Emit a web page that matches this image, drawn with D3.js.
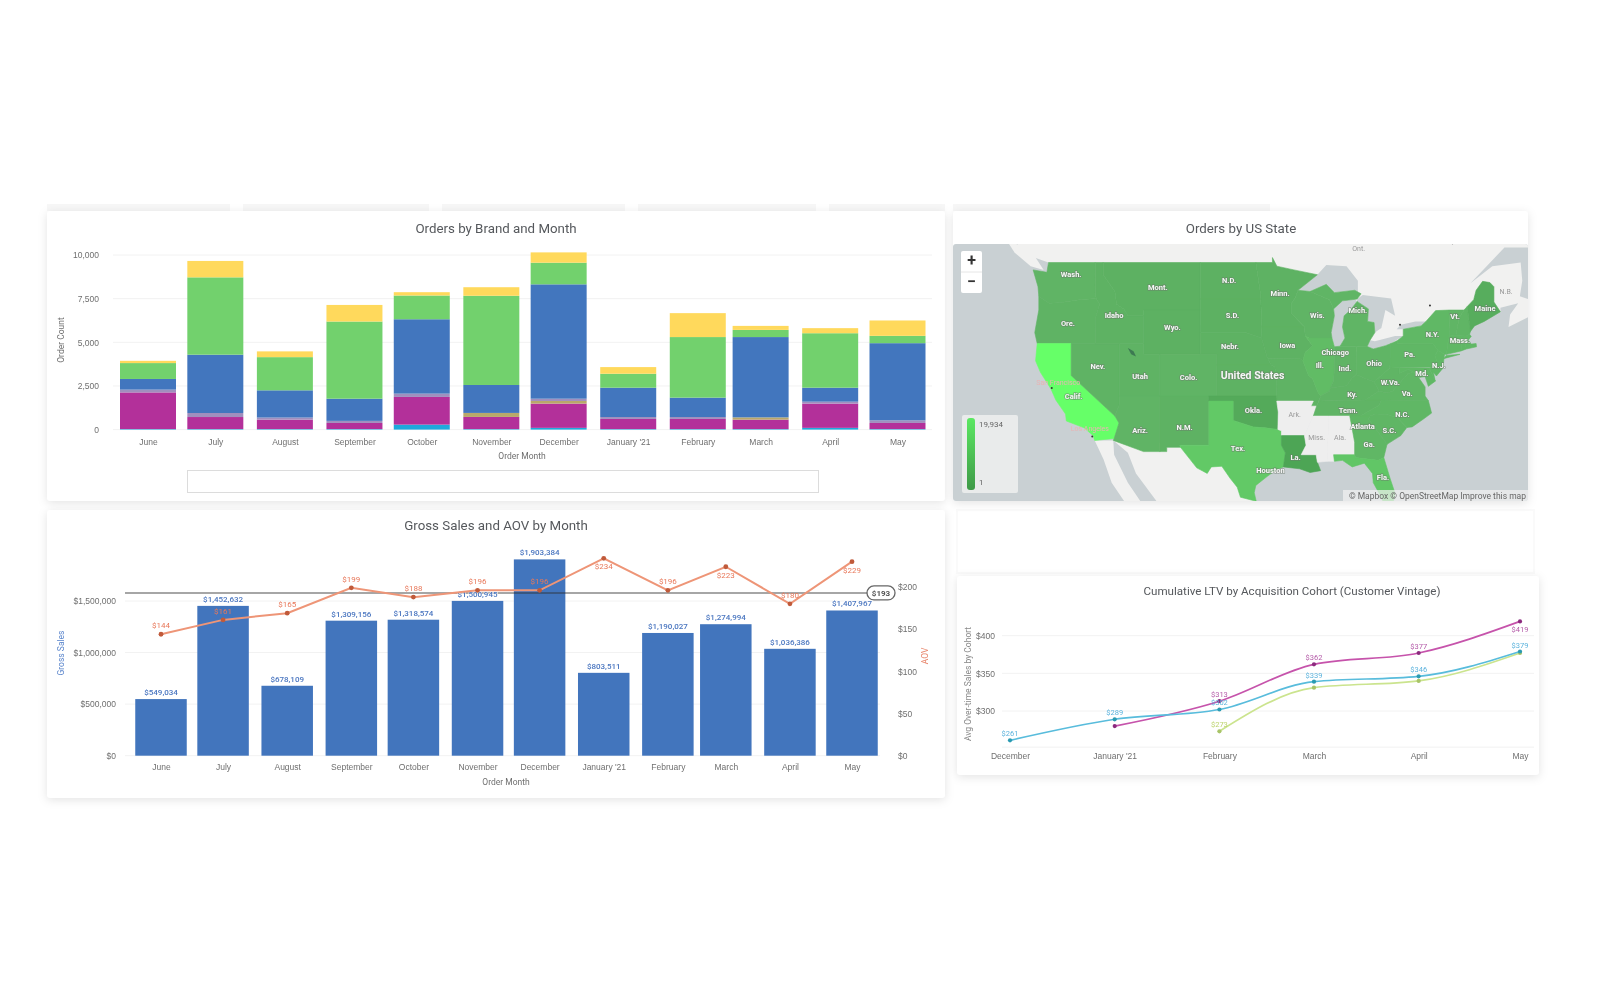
<!DOCTYPE html>
<html>
<head>
<meta charset="utf-8">
<title>Orders dashboard</title>
<script src="https://cdn.jsdelivr.net/npm/d3@7"></script>
<style>
  html, body { margin: 0; padding: 0; background: #fff; }
  svg { display: block; font-family: Roboto, "Liberation Sans", sans-serif; filter: blur(0.65px); }
  .axis path, .axis line { display: none; }
  .axis text { fill: #6f6f6f; font-size: 8.5px; }
  .title { fill: #55585c; font-size: 13.5px; text-anchor: middle; }
  .axis-title { fill: #6f6f6f; font-size: 8.5px; text-anchor: middle; }
  .grid { stroke: #f2f2f2; stroke-width: 1; }
  .card { fill: #fff; filter: drop-shadow(0 2px 5px rgba(0,0,0,.11)); }
  .map-label { fill: #f6f6f6; font-size: 7.5px; font-weight: 700; text-anchor: middle; paint-order: stroke; stroke: rgba(110,120,110,.55); stroke-width: 1.5px; }
</style>
</head>
<body>
<div id="dashboard"></div>
<script>
var parseMonth = d3.utcParse("%Y-%m");

// orders by brand and month
var orderMonths = ["2020-06","2020-07","2020-08","2020-09","2020-10","2020-11","2020-12","2021-01","2021-02","2021-03","2021-04","2021-05"];
var monthLabels = ["June","July","August","September","October","November","December","January '21","February","March","April","May"];
var brandKeys = ["brandA","brandB","brandC","brandD","brandE","brandF","brandG"];
var brandA = [30,30,30,30,285,30,100,30,30,30,100,30];
var brandB = [2100,690,540,350,1585,695,1390,580,580,540,1390,350];
var brandC = [0,0,0,0,0,230,150,0,0,130,0,0];
var brandD = [160,230,120,120,190,0,130,110,110,0,110,150];
var brandE = [610,3340,1560,1270,4260,1600,6550,1680,1110,4600,800,4420];
var brandF = [910,4430,1900,4420,1360,5110,1240,800,3470,410,3120,420];
var brandG = [130,940,330,950,190,490,590,380,1370,230,290,880];
var brandColors = ["#1fa9dc","#b3309a","#b9a86a","#a08fbe","#4276be","#72d16d","#ffd95c"];
var orderTicks = [0,2500,5000,7500,10000];

// gross sales and aov
var grossSales = [549034,1452632,678109,1309156,1318574,1500945,1903384,803511,1190027,1274994,1036386,1407967];
var aov = [144,161,169,199,188,196,196,234,196,224,180,230];
var aovLabels = ["$144","$161","$165","$199","$188","$196","$196","$234","$196","$223","$180","$229"];
var aovBelow = ["2021-01","2021-03","2021-05"];
var aovReference = 193;
var salesTicks = [0,500000,1000000,1500000];
var aovTicks = [0,50,100,150,200];

// cumulative ltv
var ltvMonths = ["2020-12","2021-01","2021-02","2021-03","2021-04","2021-05"];
var ltvLabels = ["December","January '21","February","March","April","May"];
var ltvDecember = [261,289,302,339,346,379];
var ltvJanuary = [null,280,313,362,377,419];
var ltvFebruary = [null,null,273,331,340,377];
var ltvTextDecember = ["$261","$289","$302","$339","$346","$379"];
var ltvTextJanuary = [null,null,"$313","$362","$377","$419"];
var ltvTextFebruary = [null,null,"$273",null,null,null];
var ltvTicks = [300,350,400];

// orders by state, shapes are rough [lon, lat] outlines
var stateNames = ["WA","OR","CA","NV","ID","MT","WY","UT","AZ","CO","NM","ND","SD","NE","KS","OK","TX","MN","IA","MO","AR","LA","WI","IL","IN","OH","MI","MI2","KY","TN","MS","AL","GA","FL","SC","NC","VA","WV","PA","MD","DE","NJ","NY","NY2","CT","RI","MA","VT","NH","ME"];
var stateOrders = [3000,2900,19934,2900,2800,2700,2700,2900,3000,3000,2800,2700,2700,2800,2800,1900,7800,2800,2800,2900,null,1300,3000,4800,3000,3200,3200,3200,3000,3000,null,null,3600,7000,3500,3600,3500,3200,3600,3800,3800,3900,3800,3800,3800,3800,3900,3200,3200,2200];
var stateShapes = [
  [[-124.7,48.4],[-123,48.2],[-122.8,49],[-117.03,49],[-117.04,46.4],[-116.9,46],[-119,45.9],[-121.2,45.65],[-122.7,45.6],[-124,46.2],[-124.1,47]],
  [[-124,46.2],[-122.7,45.6],[-121.2,45.65],[-119,45.9],[-116.9,46],[-116.5,45.5],[-117,44.3],[-117.03,42],[-124.2,42],[-124.5,43],[-124,45]],
  [[-124.2,42],[-120,42],[-120,39],[-114.6,35],[-114.1,34.3],[-114.7,32.7],[-117.1,32.5],[-117.3,33],[-118.4,33.8],[-120.6,34.5],[-120.7,35.2],[-121.9,36.6],[-122.5,37.7],[-123.8,39.3],[-124.4,40.4]],
  [[-120,42],[-114.04,42],[-114.04,36.2],[-114.6,35],[-120,39]],
  [[-117.03,49],[-116.05,49],[-116.05,48],[-114.6,46.6],[-114.4,45.5],[-113.5,45.1],[-113,44.5],[-111.05,44.5],[-111.05,42],[-117.03,42],[-117,44.3],[-116.5,45.5],[-116.9,46],[-117.04,46.4]],
  [[-116.05,49],[-104.05,49],[-104.05,45],[-111.05,45],[-111.05,44.5],[-113,44.5],[-113.5,45.1],[-114.4,45.5],[-114.6,46.6],[-116.05,48]],
  [[-111.05,45],[-104.05,45],[-104.05,41],[-111.05,41]],
  [[-114.04,42],[-111.05,42],[-111.05,41],[-109.05,41],[-109.05,37],[-114.04,37]],
  [[-114.04,37],[-109.05,37],[-109.05,31.33],[-111.07,31.33],[-114.8,32.5],[-114.7,32.7],[-114.1,34.3],[-114.6,35],[-114.04,36.2]],
  [[-109.05,41],[-102.05,41],[-102.05,37],[-109.05,37]],
  [[-109.05,37],[-103,37],[-103,32],[-106.6,32],[-106.5,31.78],[-108.2,31.78],[-108.2,31.33],[-109.05,31.33]],
  [[-104.05,49],[-97.2,49],[-96.6,46.3],[-96.6,45.95],[-104.05,45.95]],
  [[-104.05,45.95],[-96.6,45.95],[-96.45,43.5],[-96.5,42.5],[-98.5,43],[-104.05,43]],
  [[-104.05,43],[-98.5,43],[-96.5,42.5],[-96.1,41.5],[-95.75,40.58],[-95.3,40],[-102.05,40],[-102.05,41],[-104.05,41]],
  [[-102.05,40],[-95.3,40],[-94.9,39.8],[-94.6,39.1],[-94.62,37],[-102.05,37]],
  [[-103,37],[-94.62,37],[-94.43,35.4],[-94.48,33.64],[-96,33.8],[-97.5,33.9],[-100,34.56],[-100,36.5],[-103,36.5]],
  [[-103,36.5],[-100,36.5],[-100,34.56],[-97.5,33.9],[-96,33.8],[-94.48,33.64],[-94.04,33.5],[-94.04,32],[-93.55,31.2],[-93.8,29.7],[-94.7,29.4],[-95.9,28.6],[-97.2,27.7],[-97.4,26.9],[-97.15,25.95],[-99.1,26.4],[-99.5,27.5],[-100.4,28.5],[-101.4,29.77],[-102.7,29.7],[-103.2,29],[-104.5,29.6],[-106.5,31.78],[-106.6,32],[-103,32]],
  [[-97.2,49],[-95.15,49],[-95.15,49.4],[-94.6,48.7],[-92.5,48.4],[-89.6,48],[-92,46.7],[-92.3,46.1],[-92.8,45.6],[-92.8,44.7],[-91.2,43.5],[-96.45,43.5],[-96.6,45.95],[-96.6,46.3]],
  [[-96.45,43.5],[-91.2,43.5],[-91.1,42.7],[-90.2,41.8],[-91.1,41.2],[-91.4,40.4],[-91.7,40.6],[-95.75,40.58],[-96.1,41.5],[-96.5,42.5]],
  [[-95.75,40.58],[-91.7,40.6],[-91.4,40.4],[-90.7,39],[-90.2,38.7],[-89.5,37.3],[-89.2,37],[-89.7,36],[-90.4,36],[-90.1,36.5],[-94.62,36.5],[-94.62,37],[-94.6,39.1],[-94.9,39.8],[-95.3,40]],
  [[-94.62,36.5],[-90.1,36.5],[-90.4,36],[-89.7,36],[-90.1,35],[-91.2,33],[-94.04,33],[-94.04,33.5],[-94.48,33.64],[-94.43,35.4]],
  [[-94.04,33],[-91.2,33],[-91,32],[-91.6,31],[-89.75,31],[-89.6,30.2],[-89.2,29.3],[-90.5,29.1],[-91.8,29.5],[-93.8,29.7],[-93.55,31.2],[-94.04,32]],
  [[-92,46.7],[-90.5,46.6],[-88.1,45.9],[-87.6,45.1],[-87.5,44.5],[-87.9,43],[-87.8,42.5],[-90.6,42.5],[-91.1,42.7],[-91.2,43.5],[-92.8,44.7],[-92.8,45.6],[-92.3,46.1]],
  [[-90.6,42.5],[-87.8,42.5],[-87.5,41.7],[-87.53,39.3],[-87.6,38.5],[-88,37.8],[-88.1,37.5],[-89.2,37],[-89.5,37.3],[-90.2,38.7],[-90.7,39],[-91.4,40.4],[-91.1,41.2],[-90.2,41.8],[-91.1,42.7]],
  [[-87.5,41.7],[-86.8,41.76],[-84.8,41.76],[-84.82,39.1],[-85.4,38.7],[-86,38],[-88,37.8],[-87.6,38.5],[-87.53,39.3]],
  [[-84.8,41.76],[-83.45,41.73],[-82.7,41.5],[-81.2,41.8],[-80.52,42],[-80.52,40.64],[-80.7,39.7],[-81.7,39],[-82.6,38.4],[-83.6,38.7],[-84.82,39.1]],
  [[-86.8,41.76],[-84.8,41.76],[-83.45,41.73],[-83.1,42.3],[-82.5,43],[-82.6,43.9],[-83.4,44],[-83.3,45.1],[-84.7,45.75],[-85.5,45],[-86.3,44.5],[-86.5,43.5],[-86.2,42.5]],
  [[-90.5,46.6],[-88.5,47.2],[-87.5,46.5],[-85,46.7],[-84.2,46.4],[-84.7,45.95],[-86.5,45.8],[-87.6,45.1],[-88.1,45.9]],
  [[-89.2,37],[-88.1,37.5],[-88,37.8],[-86,38],[-85.4,38.7],[-84.82,39.1],[-83.6,38.7],[-82.6,38.4],[-82,37.5],[-83.7,36.6],[-89.4,36.5]],
  [[-90.1,35],[-89.7,36],[-89.4,36.5],[-83.7,36.6],[-81.7,36.6],[-82,36.1],[-84.3,35],[-88.2,35]],
  [[-91.2,33],[-90.1,35],[-88.2,35],[-88.4,30.3],[-89.6,30.2],[-89.75,31],[-91.6,31],[-91,32]],
  [[-88.2,35],[-85.6,35],[-85,32.3],[-85,31],[-87.6,31],[-87.5,30.3],[-88.4,30.3]],
  [[-85.6,35],[-83.1,35],[-83.3,34.7],[-81,32.1],[-81.4,30.7],[-82.1,30.4],[-84.9,30.7],[-85,31],[-85,32.3]],
  [[-87.6,31],[-85,31],[-84.9,30.7],[-82.1,30.4],[-81.4,30.7],[-80.6,28.4],[-80,26.8],[-80.4,25.2],[-81.2,25.4],[-81.9,26.7],[-82.7,28],[-82.8,29],[-83.8,30.1],[-85.3,29.7],[-86.5,30.4],[-87.5,30.3]],
  [[-83.1,35],[-82.4,35.2],[-81,35.15],[-79.7,34.8],[-78.55,33.85],[-79.3,33],[-81,32.1],[-83.3,34.7]],
  [[-84.3,35],[-82,36.1],[-81.7,36.6],[-75.9,36.55],[-75.5,35.3],[-76.5,34.7],[-77.9,33.9],[-78.55,33.85],[-79.7,34.8],[-81,35.15],[-82.4,35.2],[-83.1,35]],
  [[-83.7,36.6],[-82,37.5],[-81,37.3],[-80.3,37.5],[-79.3,38.4],[-78.4,39.2],[-77.7,39.3],[-77.1,38.8],[-76.3,37.9],[-76.3,37],[-75.9,36.55],[-81.7,36.6]],
  [[-82.6,38.4],[-81.7,39],[-80.7,39.7],[-80.52,40.64],[-80.52,39.72],[-79.48,39.72],[-79.48,39.2],[-78.4,39.6],[-77.7,39.3],[-78.4,39.2],[-79.3,38.4],[-80.3,37.5],[-81,37.3],[-82,37.5]],
  [[-80.52,42],[-79.76,42.25],[-79.76,42],[-75.35,42],[-74.7,41.36],[-75.1,40.9],[-74.75,40.2],[-75.4,39.8],[-80.52,39.72]],
  [[-79.48,39.72],[-75.8,39.72],[-75.05,38.45],[-75.9,37.95],[-76.3,38.9],[-77.1,38.8],[-77.7,39.3],[-78.4,39.6],[-79.48,39.2]],
  [[-75.8,39.72],[-75.4,39.8],[-75.05,38.45]],
  [[-75.1,40.9],[-74.7,41.36],[-73.9,41],[-74,40.4],[-74.1,39.7],[-74.9,38.95],[-75.5,39.5],[-75.4,39.8],[-74.75,40.2]],
  [[-79.76,42.25],[-79,42.7],[-79,43.3],[-76.8,43.6],[-76.2,44],[-75,44.95],[-73.35,45],[-73.3,43.6],[-73.25,42.75],[-73.5,42.05],[-73.65,41],[-73.9,41],[-74.7,41.36],[-75.35,42],[-79.76,42]],
  [[-74,40.6],[-72,41],[-73.7,40.9]],
  [[-73.5,42.05],[-71.8,42.02],[-71.85,41.32],[-73.65,41]],
  [[-71.8,42.02],[-71.38,42.02],[-71.2,41.5],[-71.85,41.32]],
  [[-73.5,42.05],[-73.25,42.75],[-71.3,42.7],[-70.8,42.85],[-70.6,42.65],[-71,42.3],[-70.6,41.95],[-70,42],[-69.95,41.7],[-71.2,41.5],[-71.38,42.02]],
  [[-73.35,45],[-71.5,45],[-72.1,44.3],[-72.5,42.73],[-73.25,42.75],[-73.3,43.6]],
  [[-71.5,45],[-71.1,45.3],[-70.7,43.1],[-70.8,42.85],[-71.3,42.7],[-72.5,42.73],[-72.1,44.3]],
  [[-71.1,45.3],[-70.3,45.9],[-70,46.7],[-69.2,47.45],[-68.3,47.35],[-67.8,47],[-67.8,45.7],[-67,44.85],[-69,44],[-70.2,43.6],[-70.7,43.1]]
];
var landShapes = [
  [[-131,56],[-58,56],[-58,50.2],[-66.5,50.2],[-70.7,47.3],[-68,48.7],[-64.5,49],[-64.3,47.5],[-64.6,46.2],[-63.8,46],[-61,45.3],[-66,43.5],[-65.8,44.6],[-64.8,45.6],[-67,45.2],[-67,44.85],[-75,43],[-83,41],[-123,46],[-122.8,49],[-125,49.5],[-128.5,51.5]],
  [[-128,50.8],[-125,50],[-123.4,48.4],[-125,48.7],[-127,49.8]],
  [[-114.8,32.5],[-113,31.2],[-112,29],[-109.5,26],[-108,22],[-96,22],[-97.15,25.9],[-103,32]],
  [[-117.1,32.5],[-114.8,32.5],[-114.7,31],[-113,28],[-110,24],[-112,24],[-115,28],[-116,30.5]]
];
var lakeShapes = [
  [[-92,46.7],[-90.5,46.6],[-88.5,47.2],[-87.5,46.5],[-85,46.7],[-84.6,46.5],[-84.6,47.5],[-86,48.7],[-88.5,48.8],[-89.6,48]],
  [[-87.9,43],[-87.5,44.5],[-87.6,45.1],[-86.5,45.8],[-85,46],[-84.7,45.75],[-85.5,45],[-86.3,44.5],[-86.5,43.5],[-86.2,42.5],[-86.8,41.76],[-87.5,41.7],[-87.8,42.5]],
  [[-84.7,45.95],[-84.7,45.75],[-83.3,45.1],[-83.4,44],[-82.6,43.9],[-82.5,43],[-81.7,43.4],[-81.2,45],[-80,44.5],[-80.5,46],[-84,46.3]],
  [[-83.45,41.73],[-82.7,41.5],[-81.2,41.8],[-80.52,42],[-79,42.7],[-80,42.7],[-82.5,42.2],[-83.1,42.3]],
  [[-79.8,43.3],[-79,43.3],[-76.8,43.6],[-76.2,44],[-77.5,44],[-79.3,43.7]]
];
var saltLake = [[-113,41.6],[-112.3,41.3],[-112,40.8],[-112.6,41]];
var stateLabels = [["Wash.",-120,48.1],["Mont.",-109.3,47],["Ore.",-120.4,43.9],["Idaho",-114.7,44.6],["Wyo.",-107.5,43.5],["N.D.",-100.5,47.6],["S.D.",-100.1,44.6],["Nebr.",-100.4,41.8],["Nev.",-116.7,39.9],["Utah",-111.5,39],["Colo.",-105.5,38.9],["Ariz.",-111.5,33.6],["N.M.",-106,33.9],["Calif.",-119.7,37],["Tex.",-99.4,31.7],["Minn.",-94.2,46.5],["Wis.",-89.6,44.6],["Iowa",-93.3,41.9],["Ill.",-89.3,40],["Ind.",-86.2,39.7],["Ohio",-82.6,40.2],["Ky.",-85.3,37.2],["W.Va.",-80.6,38.4],["Va.",-78.5,37.3],["N.C.",-79.1,35.2],["S.C.",-80.7,33.6],["Tenn.",-85.8,35.6],["Ga.",-83.2,32.1],["Okla.",-97.5,35.6],["La.",-92.3,30.8],["Fla.",-81.5,28.6],["Pa.",-78.2,41],["N.Y.",-75.4,42.9],["Vt.",-72.6,44.5],["Mass.",-72,42.3],["N.J.",-74.6,40],["Md.",-76.7,39.2],["Maine",-68.9,45.2],["Mich.",-84.6,45],["Chicago",-87.4,41.2],["Atlanta",-84,34],["Houston",-95.4,29.4]];
var grayLabels = [["Ark.",-92.4,35.2],["Miss.",-89.7,32.9],["Ala.",-86.8,32.9],["Ont.",-84.5,50.2],["Que.",-72.5,50.7],["N.B.",-66.3,46.6],["Gulf of",-90,25.7]];
var pinkLabels = [["San Francisco",-121.6,38.4],["Los Angeles",-117.7,33.8]];
var mapCities = [[-122.4,37.8],[-117.4,32.9],[-79.4,43.7],[-75.7,45.4]];

var width = 1600, height = 1001;
var svg = d3.select("#dashboard").append("svg").attr("width", width).attr("height", height);

// background bands and cards
var topStrips = [[47,230],[243,429],[442,625],[638,816],[829,945],[953,1270]];
svg.selectAll(".strip").data(topStrips).enter().append("rect")
    .attr("x", function(d) { return d[0]; }).attr("y", 204)
    .attr("width", function(d) { return d[1] - d[0]; }).attr("height", 7)
    .attr("fill", "#f7f7f7");

function card(x, y, w, h) {
  svg.append("rect").attr("class", "card").attr("x", x).attr("y", y).attr("width", w).attr("height", h).attr("rx", 3);
}
svg.append("rect").attr("x", 957).attr("y", 510).attr("width", 577).attr("height", 63).attr("fill", "#fff").attr("stroke", "#fafafa").attr("stroke-width", 2);
card(47, 211, 898, 290);
card(953, 211, 575, 290);
card(47, 510, 898, 288);
card(957, 576, 582, 199);

function title(text, x, y, size) {
  svg.append("text").attr("class", "title").attr("x", x).attr("y", y).attr("font-size", size).style("font-size", size + "px").text(text);
}
function axisTitle(text, x, y, color, rotate) {
  svg.append("text").attr("class", "axis-title")
      .attr("transform", "translate(" + x + "," + y + ")" + (rotate ? " rotate(-90)" : ""))
      .style("fill", color).text(text);
}
function grid(values, yScale, x0, x1) {
  svg.append("g").selectAll("line").data(values).enter().append("line")
      .attr("class", "grid")
      .attr("x1", x0).attr("x2", x1)
      .attr("y1", function(d) { return yScale(d); })
      .attr("y2", function(d) { return yScale(d); });
}
function monthAxis(xScale, months, labels, y) {
  var dates = months.map(parseMonth);
  svg.append("g").attr("class", "axis")
      .attr("transform", "translate(0," + y + ")")
      .call(d3.axisBottom(xScale).tickValues(dates).tickSize(0).tickPadding(0)
        .tickFormat(function(d, i) { return labels[i]; }));
}

// ---- orders by brand and month
title("Orders by Brand and Month", 496, 232.5, 13.3);

var orderTable = orderMonths.map(function(m, i) {
  return {date: parseMonth(m), brandA: brandA[i], brandB: brandB[i], brandC: brandC[i], brandD: brandD[i], brandE: brandE[i], brandF: brandF[i], brandG: brandG[i]};
});
var orderX = d3.scaleUtc().domain([parseMonth(orderMonths[0]), parseMonth(orderMonths[11])]).range([148, 897.5]);
var orderY = d3.scaleLinear().domain([0, 10000]).range([429.6, 255]);
var orderColor = d3.scaleOrdinal().domain(brandKeys).range(brandColors);
var orderBarW = 56;

grid(orderTicks, orderY, 113, 932);

svg.append("g").attr("class", "axis")
    .attr("transform", "translate(99,0)")
    .call(d3.axisLeft(orderY).tickValues(orderTicks).tickSize(0).tickPadding(0).tickFormat(d3.format(",")));

monthAxis(orderX, orderMonths, monthLabels, 439);

svg.append("g").selectAll("g")
    .data(d3.stack().keys(brandKeys)(orderTable))
    .enter().append("g")
    .attr("fill", function(d) { return orderColor(d.key); })
  .selectAll("rect")
    .data(function(d) { return d; })
    .enter().append("rect")
    .attr("x", function(d) { return orderX(d.data.date) - orderBarW / 2; })
    .attr("width", orderBarW)
    .attr("y", function(d) { return orderY(d[1]); })
    .attr("height", function(d) { return orderY(d[0]) - orderY(d[1]); });

axisTitle("Order Count", 64, 340, "#6f6f6f", true);
axisTitle("Order Month", 522, 459, "#6f6f6f", false);

svg.append("rect").attr("x", 187.5).attr("y", 470.5).attr("width", 631).attr("height", 22)
    .attr("fill", "#fff").attr("stroke", "#dcdcdc");

// ---- gross sales and aov
title("Gross Sales and AOV by Month", 496, 530, 13.3);

var salesDates = orderMonths.map(parseMonth);
var salesX = d3.scaleUtc().domain([salesDates[0], salesDates[11]]).range([161, 852]);
var salesY = d3.scaleLinear().domain([0, 1500000]).range([755.7, 601]);
var aovY = d3.scaleLinear().domain([0, 200]).range([755.7, 587]);
var salesBarW = 51.5;

grid(salesTicks, salesY, 125, 880);

svg.append("g").attr("class", "axis")
    .attr("transform", "translate(116,0)")
    .call(d3.axisLeft(salesY).tickValues(salesTicks).tickSize(0).tickPadding(0).tickFormat(d3.format("$,")));
svg.append("g").attr("class", "axis")
    .attr("transform", "translate(898,0)")
    .call(d3.axisRight(aovY).tickValues(aovTicks).tickSize(0).tickPadding(0).tickFormat(function(d) { return "$" + d; }));
monthAxis(salesX, orderMonths, monthLabels, 764);

svg.append("g").selectAll("rect").data(grossSales).enter().append("rect")
    .attr("x", function(d, i) { return salesX(salesDates[i]) - salesBarW / 2; })
    .attr("width", salesBarW)
    .attr("y", function(d) { return salesY(d); })
    .attr("height", function(d) { return salesY(0) - salesY(d); })
    .attr("fill", "#4275bd");

svg.append("line").attr("x1", 125).attr("x2", 868)
    .attr("y1", aovY(aovReference)).attr("y2", aovY(aovReference))
    .attr("stroke", "#2b2b2b").attr("stroke-opacity", 0.42).attr("stroke-width", 2);
svg.append("rect").attr("x", 867).attr("y", aovY(aovReference) - 7).attr("width", 28).attr("height", 14).attr("rx", 7)
    .attr("fill", "#fff").attr("stroke", "#666").attr("stroke-width", 1.3);
svg.append("text").attr("x", 881).attr("y", aovY(aovReference) + 3).attr("text-anchor", "middle")
    .attr("fill", "#555").attr("font-size", 8).attr("font-weight", 700).text("$" + aovReference);

svg.append("g").selectAll("text").data(grossSales).enter().append("text")
    .attr("x", function(d, i) { return salesX(salesDates[i]); })
    .attr("y", function(d) { return salesY(d) - 4; })
    .attr("text-anchor", "middle").attr("fill", "#4a76c0").attr("font-size", 8).attr("font-weight", 500)
    .attr("stroke", "#fff").attr("stroke-width", 1.5).attr("stroke-opacity", 0.7).style("paint-order", "stroke")
    .text(d3.format("$,"));

var aovLine = d3.line()
    .x(function(d, i) { return salesX(salesDates[i]); })
    .y(function(d) { return aovY(d); });
svg.append("path").attr("d", aovLine(aov)).attr("fill", "none").attr("stroke", "#ee9577").attr("stroke-width", 2);
svg.append("g").selectAll("circle").data(aov).enter().append("circle")
    .attr("cx", function(d, i) { return salesX(salesDates[i]); })
    .attr("cy", function(d) { return aovY(d); })
    .attr("r", 2.4).attr("fill", "#c05a3a");
svg.append("g").selectAll("text").data(aov).enter().append("text")
    .attr("x", function(d, i) { return salesX(salesDates[i]); })
    .attr("y", function(d, i) { return aovY(d) + (aovBelow.indexOf(orderMonths[i]) >= 0 ? 11 : -6); })
    .attr("text-anchor", "middle").attr("fill", "#e8785a").attr("font-size", 8)
    .text(function(d, i) { return aovLabels[i]; });

axisTitle("Gross Sales", 64, 653, "#5b86cc", true);
axisTitle("AOV", 928, 656, "#e8866c", true);
axisTitle("Order Month", 506, 785, "#6f6f6f", false);

// ---- cumulative ltv
title("Cumulative LTV by Acquisition Cohort (Customer Vintage)", 1292, 595, 11.6);

var ltvDates = ltvMonths.map(parseMonth);
var ltvX = d3.scaleUtc().domain([ltvDates[0], ltvDates[5]]).range([1010, 1520]);
var ltvY = d3.scaleLinear().domain([300, 400]).range([711, 635.7]);

grid(ltvTicks, ltvY, 1002, 1534);
grid([252], ltvY, 1002, 1534);

svg.append("g").attr("class", "axis")
    .attr("transform", "translate(995,0)")
    .call(d3.axisLeft(ltvY).tickValues(ltvTicks).tickSize(0).tickPadding(0).tickFormat(function(d) { return "$" + d; }));
monthAxis(ltvX, ltvMonths, ltvLabels, 753);
axisTitle("Avg Over-time Sales by Cohort", 971, 684, "#888", true);

var ltvSeries = [
  {values: ltvDecember, text: ltvTextDecember, color: "#58bcdc", dot: "#2b9bb2", ink: "#5cb3dd"},
  {values: ltvJanuary, text: ltvTextJanuary, color: "#c653ab", dot: "#8c2a7e", ink: "#b45ba8"},
  {values: ltvFebruary, text: ltvTextFebruary, color: "#cbe48e", dot: "#a8c468", ink: "#bcd36c"}
];
var ltvLine = d3.line()
    .defined(function(d) { return d != null; })
    .x(function(d, i) { return ltvX(ltvDates[i]); })
    .y(function(d) { return ltvY(d); })
    .curve(d3.curveMonotoneX);

// drawn oldest last so the blue cohort sits on top like the reference
[ltvSeries[2], ltvSeries[1], ltvSeries[0]].forEach(function(s) {
  svg.append("path").attr("d", ltvLine(s.values)).attr("fill", "none").attr("stroke", s.color).attr("stroke-width", 1.7);
  var g = svg.append("g");
  s.values.forEach(function(v, i) {
    if (v == null) return;
    g.append("circle").attr("cx", ltvX(ltvDates[i])).attr("cy", ltvY(v)).attr("r", 2.1).attr("fill", s.dot);
    if (s.text[i]) {
      g.append("text").attr("x", ltvX(ltvDates[i]))
          .attr("y", ltvY(v) + (s.text[i] == "$419" ? 11 : -4))
          .attr("text-anchor", "middle").attr("fill", s.ink).attr("font-size", 7.5)
          .text(s.text[i]);
    }
  });
});

// ---- orders by us state
title("Orders by US State", 1241, 232.5, 13.3);

var mapBox = {x: 953, y: 244, w: 575, h: 257};
var projection = d3.geoMercator().scale(464).translate([2043, 719]);
var mapColor = d3.scaleLinear().domain([1, 3000, 19934]).range(["#3f9a48", "#60b465", "#66ff68"]);
var shapeLine = d3.line()
    .x(function(d) { return projection(d)[0]; })
    .y(function(d) { return projection(d)[1]; })
    .curve(d3.curveLinearClosed);

svg.append("clipPath").attr("id", "mapClip").append("rect")
    .attr("x", mapBox.x).attr("y", mapBox.y).attr("width", mapBox.w).attr("height", mapBox.h).attr("rx", 3);
var map = svg.append("g").attr("clip-path", "url(#mapClip)");

map.append("rect").attr("x", mapBox.x).attr("y", mapBox.y).attr("width", mapBox.w).attr("height", mapBox.h).attr("fill", "#c9d0d3");
map.selectAll(".land").data(landShapes).enter().append("path").attr("d", shapeLine).attr("fill", "#f1f1f0");
map.selectAll(".lake").data(lakeShapes).enter().append("path").attr("d", shapeLine).attr("fill", "#c9d0d3");
map.selectAll(".state").data(stateShapes).enter().append("path")
    .attr("d", shapeLine)
    .attr("fill", function(d, i) { return stateOrders[i] == null ? "#eeeeee" : mapColor(stateOrders[i]); })
    .attr("stroke", function(d, i) { return stateOrders[i] == null ? "#eeeeee" : mapColor(stateOrders[i]); })
    .attr("stroke-width", 0.6);
map.append("path").attr("d", shapeLine(saltLake)).attr("fill", "#3d7a52");
map.selectAll(".city").data(mapCities).enter().append("circle")
    .attr("cx", function(d) { return projection(d)[0]; })
    .attr("cy", function(d) { return projection(d)[1]; })
    .attr("r", 1).attr("fill", "#333");

function mapText(list, cssClass, fill, size) {
  map.append("g").selectAll("text").data(list).enter().append("text")
      .attr("class", cssClass)
      .attr("text-anchor", "middle")
      .attr("x", function(d) { return projection([d[1], d[2]])[0]; })
      .attr("y", function(d) { return projection([d[1], d[2]])[1] + 3; })
      .attr("fill", fill).attr("font-size", size)
      .text(function(d) { return d[0]; });
}
mapText(stateLabels, "map-label", "#f6f6f6", 7.5);
mapText(grayLabels, "", "#999", 7);
mapText(pinkLabels, "", "#e8b4b4", 7);
map.append("text").attr("class", "map-label")
    .attr("x", projection([-97.6, 39])[0]).attr("y", projection([-97.6, 39])[1] + 3)
    .style("font-size", "10.5px").text("United States");

// zoom control
map.append("rect").attr("x", 961).attr("y", 251).attr("width", 21).attr("height", 42).attr("rx", 2).attr("fill", "#fff");
map.append("line").attr("x1", 961).attr("x2", 982).attr("y1", 272).attr("y2", 272).attr("stroke", "#e6e6e6");
map.append("text").attr("x", 971.5).attr("y", 266).attr("text-anchor", "middle").attr("font-size", 16).attr("font-weight", 700).attr("fill", "#333").text("+");
map.append("text").attr("x", 971.5).attr("y", 287).attr("text-anchor", "middle").attr("font-size", 16).attr("font-weight", 700).attr("fill", "#333").text("−");

// legend
var mapGradient = svg.append("linearGradient").attr("id", "mapGradient").attr("x1", 0).attr("x2", 0).attr("y1", 0).attr("y2", 1);
mapGradient.append("stop").attr("offset", "0%").attr("stop-color", "#5be862");
mapGradient.append("stop").attr("offset", "100%").attr("stop-color", "#3f9a48");
map.append("rect").attr("x", 962).attr("y", 415).attr("width", 56).attr("height", 78).attr("rx", 2).attr("fill", "#e9ebeb");
map.append("rect").attr("x", 967).attr("y", 418).attr("width", 8).attr("height", 72).attr("rx", 3).attr("fill", "url(#mapGradient)");
map.append("text").attr("x", 979).attr("y", 427).attr("font-size", 8).attr("fill", "#666").text("19,934");
map.append("text").attr("x", 979).attr("y", 485).attr("font-size", 8).attr("fill", "#666").text("1");

// attribution
map.append("rect").attr("x", 1343).attr("y", 490).attr("width", 185).attr("height", 11).attr("fill", "#f2f2f2").attr("fill-opacity", 0.7);
map.append("text").attr("x", 1526).attr("y", 498.5).attr("text-anchor", "end").attr("font-size", 8.5).attr("fill", "#666").text("© Mapbox © OpenStreetMap  Improve this map");
</script>
</body>
</html>
